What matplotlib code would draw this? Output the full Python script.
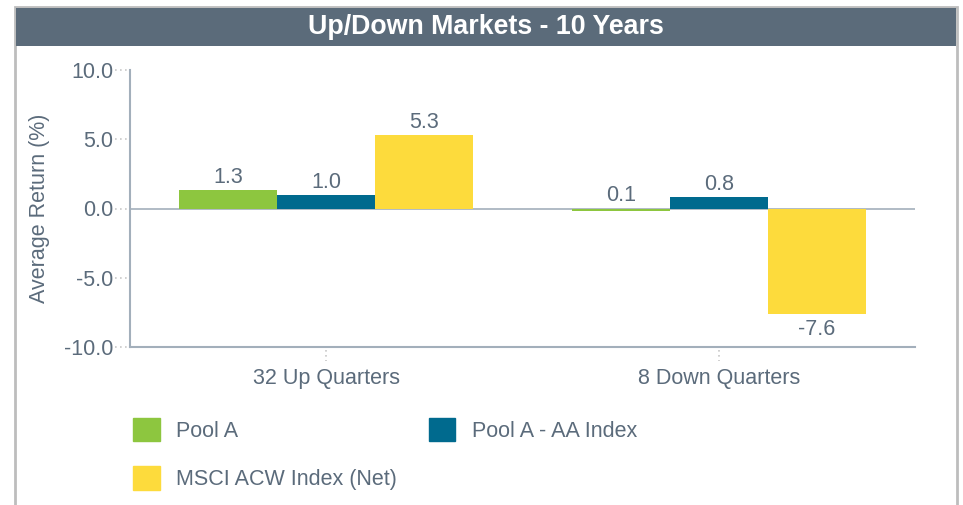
import matplotlib
matplotlib.use("Agg")
import matplotlib.pyplot as plt
import matplotlib.transforms as mtransforms
from matplotlib.patches import Rectangle, Patch
import numpy as np

plt.rcParams['font.family'] = ['Liberation Sans', 'DejaVu Sans']

categories = ["32 Up Quarters", "8 Down Quarters"]
series_names = ["Pool A", "Pool A - AA Index", "MSCI ACW Index (Net)"]
pool_a = [1.3, -0.2]
pool_a_aa = [1.0, 0.8]
msci = [5.3, -7.6]
pool_a_labels = ["1.3", "0.1"]
pool_a_aa_labels = ["1.0", "0.8"]
msci_labels = ["5.3", "-7.6"]
yticks = [-10.0, -5.0, 0.0, 5.0, 10.0]
title = "Up/Down Markets - 10 Years"
ylabel = "Average Return (%)"

colors = ["#8dc63f", "#006a8e", "#fddb3c"]
text_c = "#5b6b7b"
axis_c = "#a3afbb"
W, H = 963, 505
fs = 15.5

fig = plt.figure(figsize=(W / 100, H / 100), dpi=100)

# border and title bar
fig.add_artist(Rectangle((15 / W, -0.05), (957 - 15) / W, 1 - 7 / H + 0.05,
                         transform=fig.transFigure, facecolor="none",
                         edgecolor="#bdbdbd", lw=2))
fig.add_artist(Rectangle((16 / W, 1 - 46 / H), (956 - 16) / W, 38 / H,
                         transform=fig.transFigure, facecolor="#5b6b7a",
                         edgecolor="none"))
fig.text(486 / W, 1 - 27 / H, title, ha="center", va="center",
         color="white", fontsize=19.3, fontweight="bold")

ax = fig.add_axes([130 / W, 1 - 347 / H, (915 - 130) / W, (347 - 70) / H])
x = np.arange(len(categories))
bw = 0.25
data = [pool_a, pool_a_aa, msci]
labels = [pool_a_labels, pool_a_aa_labels, msci_labels]
for i, (vals, labs) in enumerate(zip(data, labels)):
    xs = x + (i - 1) * bw
    ax.bar(xs, vals, width=bw, color=colors[i], label=series_names[i], zorder=2)
    for xx, v, lab in zip(xs, vals, labs):
        if lab.startswith("-"):
            ax.annotate(lab, (xx, v), xytext=(0, -4), textcoords="offset points",
                        ha="center", va="top", color=text_c, fontsize=fs)
        else:
            ax.annotate(lab, (xx, max(v, 0)), xytext=(0, 1.5), textcoords="offset points",
                        ha="center", va="bottom", color=text_c, fontsize=fs)

ax.axhline(0, color=axis_c, lw=1.2, zorder=1)
ax.set_xlim(-0.5, len(categories) - 0.5)
ax.set_ylim(-10, 10)
ax.set_yticks(yticks)
ax.set_yticklabels([f"{t:.1f}" for t in yticks])
ax.set_xticks(x)
ax.set_xticklabels(categories)
ax.tick_params(axis="y", length=0, pad=12, labelsize=fs, labelcolor=text_c)
ax.tick_params(axis="x", length=0, pad=15, labelsize=fs, labelcolor=text_c)
for s in ["top", "right"]:
    ax.spines[s].set_visible(False)
for s in ["left", "bottom"]:
    ax.spines[s].set_color(axis_c)
    ax.spines[s].set_linewidth(1.5)

# dotted tick marks
ty = mtransforms.blended_transform_factory(ax.transAxes, ax.transData)
for t in yticks:
    ax.plot([-15 / 785, -2 / 785], [t, t], transform=ty, ls=(0, (1, 2)),
            color="#c8c8c8", lw=1.2, clip_on=False)
tx = mtransforms.blended_transform_factory(ax.transData, ax.transAxes)
for xx in x:
    ax.plot([xx, xx], [-3 / 277, -14 / 277], transform=tx, ls=(0, (1, 2)),
            color="#c8c8c8", lw=1.2, clip_on=False)

ax.set_ylabel(ylabel, fontsize=fs, color=text_c)
ax.yaxis.set_label_coords(-80 / 785, 0.5)

handles = [Patch(color=colors[0]), Patch(color=colors[2]), Patch(color=colors[1])]
names = [series_names[0], series_names[2], series_names[1]]
fig.legend(handles, names, ncol=2, loc="upper left",
           bbox_to_anchor=(133 / W, 1 - 418 / H), frameon=False,
           fontsize=fs, labelcolor=text_c, handlelength=1.25, handleheight=1.3,
           handletextpad=0.75, labelspacing=1.12, columnspacing=1.47, borderpad=0,
           borderaxespad=0)

fig.savefig("out.png", dpi=100)
